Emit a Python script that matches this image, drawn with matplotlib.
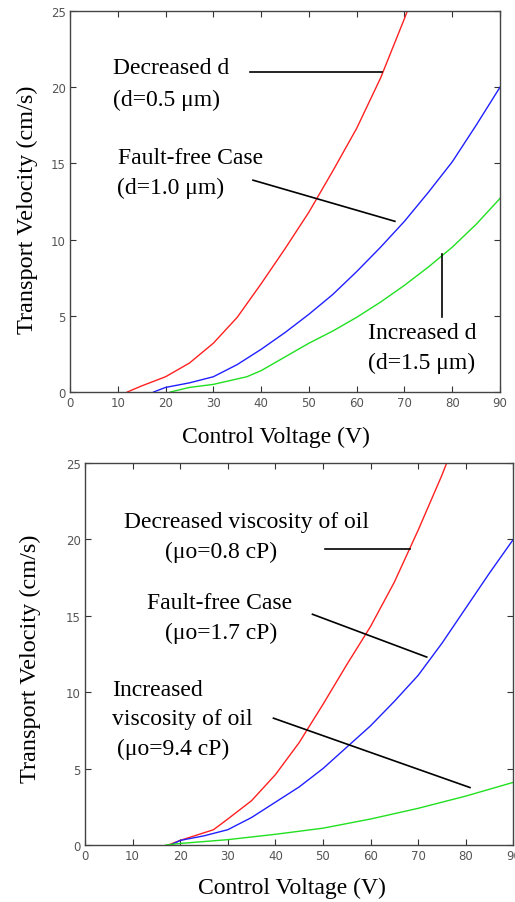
import matplotlib
matplotlib.use("Agg")
import matplotlib.pyplot as plt

# ---- data: top panel (electrode gap d) ----
top_red_x = [12, 15, 20, 25, 30, 35, 40, 45, 50, 55, 60, 65, 70, 70.6]
top_red_y = [0, 0.4, 1.0, 1.9, 3.2, 4.9, 7.1, 9.4, 11.8, 14.5, 17.3, 20.6, 24.5, 25]
top_blue_x = [17.5, 20, 25, 30, 35, 40, 45, 50, 55, 60, 65, 70, 75, 80, 85, 90]
top_blue_y = [0, 0.3, 0.6, 1.0, 1.8, 2.8, 3.9, 5.1, 6.4, 7.9, 9.5, 11.2, 13.1, 15.1, 17.5, 20.0]
top_green_x = [21, 25, 30, 37, 40, 45, 50, 55, 60, 65, 70, 75, 80, 85, 90]
top_green_y = [0, 0.3, 0.5, 1.0, 1.4, 2.3, 3.2, 4.0, 4.9, 5.9, 7.0, 8.2, 9.5, 11.0, 12.7]

# ---- data: bottom panel (oil viscosity) ----
bot_red_x = [17.5, 20, 25, 27, 30, 35, 40, 45, 50, 55, 60, 65, 70, 75, 76]
bot_red_y = [0, 0.3, 0.8, 1.0, 1.7, 2.9, 4.6, 6.7, 9.2, 11.8, 14.3, 17.2, 20.6, 24.2, 25]
bot_blue_x = [18, 20, 25, 30, 35, 40, 45, 50, 55, 60, 65, 70, 75, 80, 85, 90]
bot_blue_y = [0, 0.3, 0.6, 1.0, 1.8, 2.8, 3.8, 5.0, 6.4, 7.8, 9.4, 11.1, 13.2, 15.5, 17.8, 20.0]
bot_green_x = [17, 20, 30, 40, 50, 60, 70, 80, 90]
bot_green_y = [0, 0.1, 0.35, 0.7, 1.1, 1.7, 2.4, 3.2, 4.1]

x_ticks = [0, 10, 20, 30, 40, 50, 60, 70, 80, 90]
y_ticks = [0, 5, 10, 15, 20, 25]

top_labels = ["Decreased d", "(d=0.5 \u03bcm)", "Fault-free Case", "(d=1.0 \u03bcm)",
              "Increased d", "(d=1.5 \u03bcm)"]
bot_labels = ["Decreased viscosity of oil", "(\u03bco=0.8 cP)", "Fault-free Case",
              "(\u03bco=1.7 cP)", "Increased", "viscosity of oil", "(\u03bco=9.4 cP)"]

SERIF = ["Liberation Serif", "DejaVu Serif"]
plt.rcParams['font.family'] = SERIF

fig = plt.figure(figsize=(5.15, 9.03), dpi=100)
fig.patch.set_facecolor("white")

RED, BLUE, GREEN = "#ff2020", "#2020ff", "#20e020"
FS = 17


def style(ax):
    ax.set_xlim(0, 90)
    ax.set_ylim(0, 25)
    ax.set_xticks(x_ticks)
    ax.set_yticks(y_ticks)
    ax.tick_params(direction="in", top=True, right=True, length=4, width=0.8,
                   labelsize=8.5, labelcolor="#555555", color="#333333", pad=3)
    for lab in ax.get_xticklabels() + ax.get_yticklabels():
        lab.set_family(["DejaVu Sans"])
    for s in ax.spines.values():
        s.set_color("#444444")
        s.set_linewidth(1.0)
    ax.set_xlabel("Control Voltage (V)", fontsize=FS)
    ax.set_ylabel("Transport Velocity (cm/s)", fontsize=FS + 0.5)
    ax.xaxis.label.set_va("center")
    ax.yaxis.label.set_va("center")


# top panel
ax1 = fig.add_axes([70 / 515, 1 - 393 / 903, 430 / 515, 381 / 903])
ax1.plot(top_red_x, top_red_y, color=RED, lw=1.0)
ax1.plot(top_blue_x, top_blue_y, color=BLUE, lw=1.0)
ax1.plot(top_green_x, top_green_y, color=GREEN, lw=1.0)
style(ax1)
ax1.xaxis.set_label_coords((276 - 70) / 430, (393 - 437) / 381)
ax1.yaxis.set_label_coords((27 - 70) / 430, 0.48)

ax1.text(9.0, 21.3, top_labels[0], fontsize=FS, va="center")
ax1.text(9.0, 19.2, top_labels[1], fontsize=FS, va="center")
ax1.text(10.0, 15.4, top_labels[2], fontsize=FS, va="center")
ax1.text(9.8, 13.45, top_labels[3], fontsize=FS, va="center")
ax1.text(62.4, 3.9, top_labels[4], fontsize=FS, va="center")
ax1.text(62.4, 1.97, top_labels[5], fontsize=FS, va="center")
ax1.plot([37.7, 65.3], [21.0, 21.0], color="black", lw=1.2)
ax1.plot([38.3, 68.0], [13.9, 11.2], color="black", lw=1.2)
ax1.plot([77.8, 77.8], [9.05, 4.9], color="black", lw=1.2)

# bottom panel
ax2 = fig.add_axes([85 / 515, 1 - 846 / 903, 428.3 / 515, 382 / 903])
ax2.plot(bot_red_x, bot_red_y, color=RED, lw=1.0)
ax2.plot(bot_blue_x, bot_blue_y, color=BLUE, lw=1.0)
ax2.plot(bot_green_x, bot_green_y, color=GREEN, lw=1.0)
style(ax2)
ax2.xaxis.set_label_coords((292 - 85) / 428.3, (846 - 888) / 382)
ax2.yaxis.set_label_coords((30 - 85) / 428.3, 0.49)

ax2.text(8.2, 21.2, bot_labels[0], fontsize=FS, va="center")
ax2.text(16.8, 19.2, bot_labels[1], fontsize=FS, va="center")
ax2.text(13.0, 15.9, bot_labels[2], fontsize=FS, va="center")
ax2.text(16.8, 13.9, bot_labels[3], fontsize=FS, va="center")
ax2.text(5.7, 10.2, bot_labels[4], fontsize=FS, va="center")
ax2.text(5.7, 8.25, bot_labels[5], fontsize=FS, va="center")
ax2.text(6.7, 6.3, bot_labels[6], fontsize=FS, va="center")
ax2.plot([50.4, 68.3], [19.4, 19.4], color="black", lw=1.2)
ax2.plot([47.8, 71.8], [15.1, 12.3], color="black", lw=1.2)
ax2.plot([39.6, 80.9], [8.3, 3.76], color="black", lw=1.2)

fig.savefig("out.png", dpi=100, facecolor="white")
